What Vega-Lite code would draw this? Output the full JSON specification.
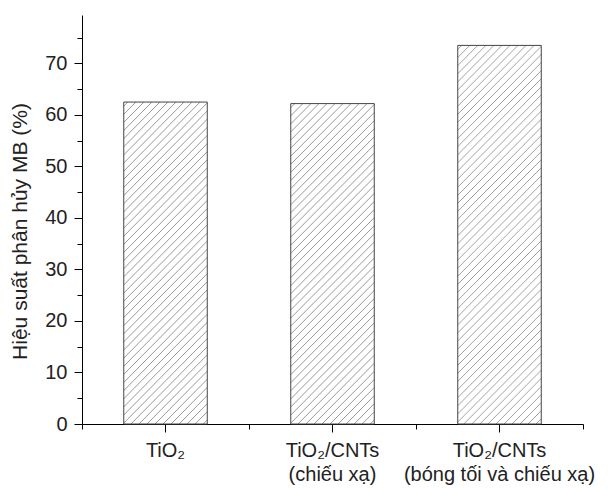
{
  "$schema": "https://vega.github.io/schema/vega-lite/v6.json",
  "autosize": {"type": "none"},
  "width": 501,
  "height": 409,
  "padding": {"left": 82, "top": 15, "right": 28, "bottom": 66},
  "background": "#ffffff",
  "config": {"view": {"stroke": null}, "font": "Liberation Sans"},
  "data": {"values": [
    {"sample": "TiO₂", "efficiency": 62.5},
    {"sample": "TiO₂/CNTs|(chiếu xạ)", "efficiency": 62.2},
    {"sample": "TiO₂/CNTs|(bóng tối và chiếu xạ)", "efficiency": 73.5}
  ]},
  "encoding": {
    "y": {"field": "efficiency", "type": "quantitative",
      "scale": {"domain": [0, 79.4], "nice": false, "zero": true},
      "axis": {"title": "Hiệu suất phân hủy MB (%)", "titleFontSize": 21, "titleFontWeight": "normal",
        "titleColor": "#222222", "titleFont": "Liberation Sans", "titlePadding": 14, "titleY": 216,
        "values": [0, 5, 10, 15, 20, 25, 30, 35, 40, 45, 50, 55, 60, 65, 70, 75],
        "labelExpr": "datum.value % 10 === 0 ? datum.label : ''",
        "ticks": true,
        "tickSize": {"condition": {"test": "datum.value % 10 === 0", "value": 8}, "value": 5},
        "labelFontSize": 20, "labelColor": "#222222", "labelPadding": 7, "labelFont": "Liberation Sans",
        "tickColor": "#000000", "domainColor": "#000000", "grid": false}}
  },
  "resolve": {"scale": {"x": "independent"}, "axis": {"x": "independent"}},
  "layer": [
    {
      "mark": {"type": "bar", "stroke": "#444444", "strokeWidth": 1},
      "encoding": {
        "x": {"field": "sample", "type": "nominal", "sort": null,
          "scale": {"paddingInner": 0.5, "paddingOuter": 0.25},
          "axis": {"title": null, "labelAngle": 0, "labelExpr": "split(datum.label, '|')",
            "labelFontSize": 20, "labelColor": "#222222", "labelPadding": 8, "labelLineHeight": 24, "labelLimit": 400,
            "ticks": true, "tickSize": 8, "tickColor": "#000000", "domainColor": "#000000", "labelFont": "Liberation Sans"}},
        "fill": {
          "condition": {"test": "datum.efficiency > 70", "value": {"gradient": "linear", "x1": 0, "y1": 0, "x2": 0.2588, "y2": 1.1647, "stops": [
{"offset":0.00675,"color":"#fff"},{"offset":0.00875,"color":"#999"},{"offset":0.01075,"color":"#fff"},
{"offset":0.02425,"color":"#fff"},{"offset":0.02625,"color":"#999"},{"offset":0.02825,"color":"#fff"},
{"offset":0.04175,"color":"#fff"},{"offset":0.04375,"color":"#999"},{"offset":0.04575,"color":"#fff"},
{"offset":0.05925,"color":"#fff"},{"offset":0.06125,"color":"#999"},{"offset":0.06325,"color":"#fff"},
{"offset":0.07675,"color":"#fff"},{"offset":0.07875,"color":"#999"},{"offset":0.08075,"color":"#fff"},
{"offset":0.09425,"color":"#fff"},{"offset":0.09625,"color":"#999"},{"offset":0.09825,"color":"#fff"},
{"offset":0.11175,"color":"#fff"},{"offset":0.11375,"color":"#999"},{"offset":0.11575,"color":"#fff"},
{"offset":0.12925,"color":"#fff"},{"offset":0.13125,"color":"#999"},{"offset":0.13325,"color":"#fff"},
{"offset":0.14675,"color":"#fff"},{"offset":0.14875,"color":"#999"},{"offset":0.15075,"color":"#fff"},
{"offset":0.16425,"color":"#fff"},{"offset":0.16625,"color":"#999"},{"offset":0.16825,"color":"#fff"},
{"offset":0.18175,"color":"#fff"},{"offset":0.18375,"color":"#999"},{"offset":0.18575,"color":"#fff"},
{"offset":0.19925,"color":"#fff"},{"offset":0.20125,"color":"#999"},{"offset":0.20325,"color":"#fff"},
{"offset":0.21675,"color":"#fff"},{"offset":0.21875,"color":"#999"},{"offset":0.22075,"color":"#fff"},
{"offset":0.23425,"color":"#fff"},{"offset":0.23625,"color":"#999"},{"offset":0.23825,"color":"#fff"},
{"offset":0.25175,"color":"#fff"},{"offset":0.25375,"color":"#999"},{"offset":0.25575,"color":"#fff"},
{"offset":0.26925,"color":"#fff"},{"offset":0.27125,"color":"#999"},{"offset":0.27325,"color":"#fff"},
{"offset":0.28675,"color":"#fff"},{"offset":0.28875,"color":"#999"},{"offset":0.29075,"color":"#fff"},
{"offset":0.30425,"color":"#fff"},{"offset":0.30625,"color":"#999"},{"offset":0.30825,"color":"#fff"},
{"offset":0.32175,"color":"#fff"},{"offset":0.32375,"color":"#999"},{"offset":0.32575,"color":"#fff"},
{"offset":0.33925,"color":"#fff"},{"offset":0.34125,"color":"#999"},{"offset":0.34325,"color":"#fff"},
{"offset":0.35675,"color":"#fff"},{"offset":0.35875,"color":"#999"},{"offset":0.36075,"color":"#fff"},
{"offset":0.37425,"color":"#fff"},{"offset":0.37625,"color":"#999"},{"offset":0.37825,"color":"#fff"},
{"offset":0.39175,"color":"#fff"},{"offset":0.39375,"color":"#999"},{"offset":0.39575,"color":"#fff"},
{"offset":0.40925,"color":"#fff"},{"offset":0.41125,"color":"#999"},{"offset":0.41325,"color":"#fff"},
{"offset":0.42675,"color":"#fff"},{"offset":0.42875,"color":"#999"},{"offset":0.43075,"color":"#fff"},
{"offset":0.44425,"color":"#fff"},{"offset":0.44625,"color":"#999"},{"offset":0.44825,"color":"#fff"},
{"offset":0.46175,"color":"#fff"},{"offset":0.46375,"color":"#999"},{"offset":0.46575,"color":"#fff"},
{"offset":0.47925,"color":"#fff"},{"offset":0.48125,"color":"#999"},{"offset":0.48325,"color":"#fff"},
{"offset":0.49675,"color":"#fff"},{"offset":0.49875,"color":"#999"},{"offset":0.50075,"color":"#fff"},
{"offset":0.51425,"color":"#fff"},{"offset":0.51625,"color":"#999"},{"offset":0.51825,"color":"#fff"},
{"offset":0.53175,"color":"#fff"},{"offset":0.53375,"color":"#999"},{"offset":0.53575,"color":"#fff"},
{"offset":0.54925,"color":"#fff"},{"offset":0.55125,"color":"#999"},{"offset":0.55325,"color":"#fff"},
{"offset":0.56675,"color":"#fff"},{"offset":0.56875,"color":"#999"},{"offset":0.57075,"color":"#fff"},
{"offset":0.58425,"color":"#fff"},{"offset":0.58625,"color":"#999"},{"offset":0.58825,"color":"#fff"},
{"offset":0.60175,"color":"#fff"},{"offset":0.60375,"color":"#999"},{"offset":0.60575,"color":"#fff"},
{"offset":0.61925,"color":"#fff"},{"offset":0.62125,"color":"#999"},{"offset":0.62325,"color":"#fff"},
{"offset":0.63675,"color":"#fff"},{"offset":0.63875,"color":"#999"},{"offset":0.64075,"color":"#fff"},
{"offset":0.65425,"color":"#fff"},{"offset":0.65625,"color":"#999"},{"offset":0.65825,"color":"#fff"},
{"offset":0.67175,"color":"#fff"},{"offset":0.67375,"color":"#999"},{"offset":0.67575,"color":"#fff"},
{"offset":0.68925,"color":"#fff"},{"offset":0.69125,"color":"#999"},{"offset":0.69325,"color":"#fff"},
{"offset":0.70675,"color":"#fff"},{"offset":0.70875,"color":"#999"},{"offset":0.71075,"color":"#fff"},
{"offset":0.72425,"color":"#fff"},{"offset":0.72625,"color":"#999"},{"offset":0.72825,"color":"#fff"},
{"offset":0.74175,"color":"#fff"},{"offset":0.74375,"color":"#999"},{"offset":0.74575,"color":"#fff"},
{"offset":0.75925,"color":"#fff"},{"offset":0.76125,"color":"#999"},{"offset":0.76325,"color":"#fff"},
{"offset":0.77675,"color":"#fff"},{"offset":0.77875,"color":"#999"},{"offset":0.78075,"color":"#fff"},
{"offset":0.79425,"color":"#fff"},{"offset":0.79625,"color":"#999"},{"offset":0.79825,"color":"#fff"},
{"offset":0.81175,"color":"#fff"},{"offset":0.81375,"color":"#999"},{"offset":0.81575,"color":"#fff"},
{"offset":0.82925,"color":"#fff"},{"offset":0.83125,"color":"#999"},{"offset":0.83325,"color":"#fff"},
{"offset":0.84675,"color":"#fff"},{"offset":0.84875,"color":"#999"},{"offset":0.85075,"color":"#fff"},
{"offset":0.86425,"color":"#fff"},{"offset":0.86625,"color":"#999"},{"offset":0.86825,"color":"#fff"},
{"offset":0.88175,"color":"#fff"},{"offset":0.88375,"color":"#999"},{"offset":0.88575,"color":"#fff"},
{"offset":0.89925,"color":"#fff"},{"offset":0.90125,"color":"#999"},{"offset":0.90325,"color":"#fff"},
{"offset":0.91675,"color":"#fff"},{"offset":0.91875,"color":"#999"},{"offset":0.92075,"color":"#fff"},
{"offset":0.93425,"color":"#fff"},{"offset":0.93625,"color":"#999"},{"offset":0.93825,"color":"#fff"},
{"offset":0.95175,"color":"#fff"},{"offset":0.95375,"color":"#999"},{"offset":0.95575,"color":"#fff"},
{"offset":0.96925,"color":"#fff"},{"offset":0.97125,"color":"#999"},{"offset":0.97325,"color":"#fff"},
{"offset":0.98675,"color":"#fff"},{"offset":0.98875,"color":"#999"},{"offset":0.99075,"color":"#fff"}
          ]}},
          "value": {"gradient": "linear", "x1": 0, "y1": 0, "x2": 0.31, "y2": 1.181, "stops": [
{"offset":0.0075,"color":"#fff"},{"offset":0.01,"color":"#999"},{"offset":0.0125,"color":"#fff"},
{"offset":0.0275,"color":"#fff"},{"offset":0.03,"color":"#999"},{"offset":0.0325,"color":"#fff"},
{"offset":0.0475,"color":"#fff"},{"offset":0.05,"color":"#999"},{"offset":0.0525,"color":"#fff"},
{"offset":0.0675,"color":"#fff"},{"offset":0.07,"color":"#999"},{"offset":0.0725,"color":"#fff"},
{"offset":0.0875,"color":"#fff"},{"offset":0.09,"color":"#999"},{"offset":0.0925,"color":"#fff"},
{"offset":0.1075,"color":"#fff"},{"offset":0.11,"color":"#999"},{"offset":0.1125,"color":"#fff"},
{"offset":0.1275,"color":"#fff"},{"offset":0.13,"color":"#999"},{"offset":0.1325,"color":"#fff"},
{"offset":0.1475,"color":"#fff"},{"offset":0.15,"color":"#999"},{"offset":0.1525,"color":"#fff"},
{"offset":0.1675,"color":"#fff"},{"offset":0.17,"color":"#999"},{"offset":0.1725,"color":"#fff"},
{"offset":0.1875,"color":"#fff"},{"offset":0.19,"color":"#999"},{"offset":0.1925,"color":"#fff"},
{"offset":0.2075,"color":"#fff"},{"offset":0.21,"color":"#999"},{"offset":0.2125,"color":"#fff"},
{"offset":0.2275,"color":"#fff"},{"offset":0.23,"color":"#999"},{"offset":0.2325,"color":"#fff"},
{"offset":0.2475,"color":"#fff"},{"offset":0.25,"color":"#999"},{"offset":0.2525,"color":"#fff"},
{"offset":0.2675,"color":"#fff"},{"offset":0.27,"color":"#999"},{"offset":0.2725,"color":"#fff"},
{"offset":0.2875,"color":"#fff"},{"offset":0.29,"color":"#999"},{"offset":0.2925,"color":"#fff"},
{"offset":0.3075,"color":"#fff"},{"offset":0.31,"color":"#999"},{"offset":0.3125,"color":"#fff"},
{"offset":0.3275,"color":"#fff"},{"offset":0.33,"color":"#999"},{"offset":0.3325,"color":"#fff"},
{"offset":0.3475,"color":"#fff"},{"offset":0.35,"color":"#999"},{"offset":0.3525,"color":"#fff"},
{"offset":0.3675,"color":"#fff"},{"offset":0.37,"color":"#999"},{"offset":0.3725,"color":"#fff"},
{"offset":0.3875,"color":"#fff"},{"offset":0.39,"color":"#999"},{"offset":0.3925,"color":"#fff"},
{"offset":0.4075,"color":"#fff"},{"offset":0.41,"color":"#999"},{"offset":0.4125,"color":"#fff"},
{"offset":0.4275,"color":"#fff"},{"offset":0.43,"color":"#999"},{"offset":0.4325,"color":"#fff"},
{"offset":0.4475,"color":"#fff"},{"offset":0.45,"color":"#999"},{"offset":0.4525,"color":"#fff"},
{"offset":0.4675,"color":"#fff"},{"offset":0.47,"color":"#999"},{"offset":0.4725,"color":"#fff"},
{"offset":0.4875,"color":"#fff"},{"offset":0.49,"color":"#999"},{"offset":0.4925,"color":"#fff"},
{"offset":0.5075,"color":"#fff"},{"offset":0.51,"color":"#999"},{"offset":0.5125,"color":"#fff"},
{"offset":0.5275,"color":"#fff"},{"offset":0.53,"color":"#999"},{"offset":0.5325,"color":"#fff"},
{"offset":0.5475,"color":"#fff"},{"offset":0.55,"color":"#999"},{"offset":0.5525,"color":"#fff"},
{"offset":0.5675,"color":"#fff"},{"offset":0.57,"color":"#999"},{"offset":0.5725,"color":"#fff"},
{"offset":0.5875,"color":"#fff"},{"offset":0.59,"color":"#999"},{"offset":0.5925,"color":"#fff"},
{"offset":0.6075,"color":"#fff"},{"offset":0.61,"color":"#999"},{"offset":0.6125,"color":"#fff"},
{"offset":0.6275,"color":"#fff"},{"offset":0.63,"color":"#999"},{"offset":0.6325,"color":"#fff"},
{"offset":0.6475,"color":"#fff"},{"offset":0.65,"color":"#999"},{"offset":0.6525,"color":"#fff"},
{"offset":0.6675,"color":"#fff"},{"offset":0.67,"color":"#999"},{"offset":0.6725,"color":"#fff"},
{"offset":0.6875,"color":"#fff"},{"offset":0.69,"color":"#999"},{"offset":0.6925,"color":"#fff"},
{"offset":0.7075,"color":"#fff"},{"offset":0.71,"color":"#999"},{"offset":0.7125,"color":"#fff"},
{"offset":0.7275,"color":"#fff"},{"offset":0.73,"color":"#999"},{"offset":0.7325,"color":"#fff"},
{"offset":0.7475,"color":"#fff"},{"offset":0.75,"color":"#999"},{"offset":0.7525,"color":"#fff"},
{"offset":0.7675,"color":"#fff"},{"offset":0.77,"color":"#999"},{"offset":0.7725,"color":"#fff"},
{"offset":0.7875,"color":"#fff"},{"offset":0.79,"color":"#999"},{"offset":0.7925,"color":"#fff"},
{"offset":0.8075,"color":"#fff"},{"offset":0.81,"color":"#999"},{"offset":0.8125,"color":"#fff"},
{"offset":0.8275,"color":"#fff"},{"offset":0.83,"color":"#999"},{"offset":0.8325,"color":"#fff"},
{"offset":0.8475,"color":"#fff"},{"offset":0.85,"color":"#999"},{"offset":0.8525,"color":"#fff"},
{"offset":0.8675,"color":"#fff"},{"offset":0.87,"color":"#999"},{"offset":0.8725,"color":"#fff"},
{"offset":0.8875,"color":"#fff"},{"offset":0.89,"color":"#999"},{"offset":0.8925,"color":"#fff"},
{"offset":0.9075,"color":"#fff"},{"offset":0.91,"color":"#999"},{"offset":0.9125,"color":"#fff"},
{"offset":0.9275,"color":"#fff"},{"offset":0.93,"color":"#999"},{"offset":0.9325,"color":"#fff"},
{"offset":0.9475,"color":"#fff"},{"offset":0.95,"color":"#999"},{"offset":0.9525,"color":"#fff"},
{"offset":0.9675,"color":"#fff"},{"offset":0.97,"color":"#999"},{"offset":0.9725,"color":"#fff"},
{"offset":0.9875,"color":"#fff"},{"offset":0.99,"color":"#999"},{"offset":0.9925,"color":"#fff"}
          ]}
        }
      }
    },
    {
      "mark": {"type": "bar", "opacity": 0},
      "encoding": {
        "x": {"field": "sample", "type": "nominal", "sort": null,
          "scale": {"paddingInner": 0, "paddingOuter": 0},
          "axis": {"title": null, "labels": false, "domain": false, "tickBand": "extent",
            "ticks": true, "tickSize": -5, "tickColor": "#000000", "orient": "top", "offset": -409}}
      }
    }
  ]
}
